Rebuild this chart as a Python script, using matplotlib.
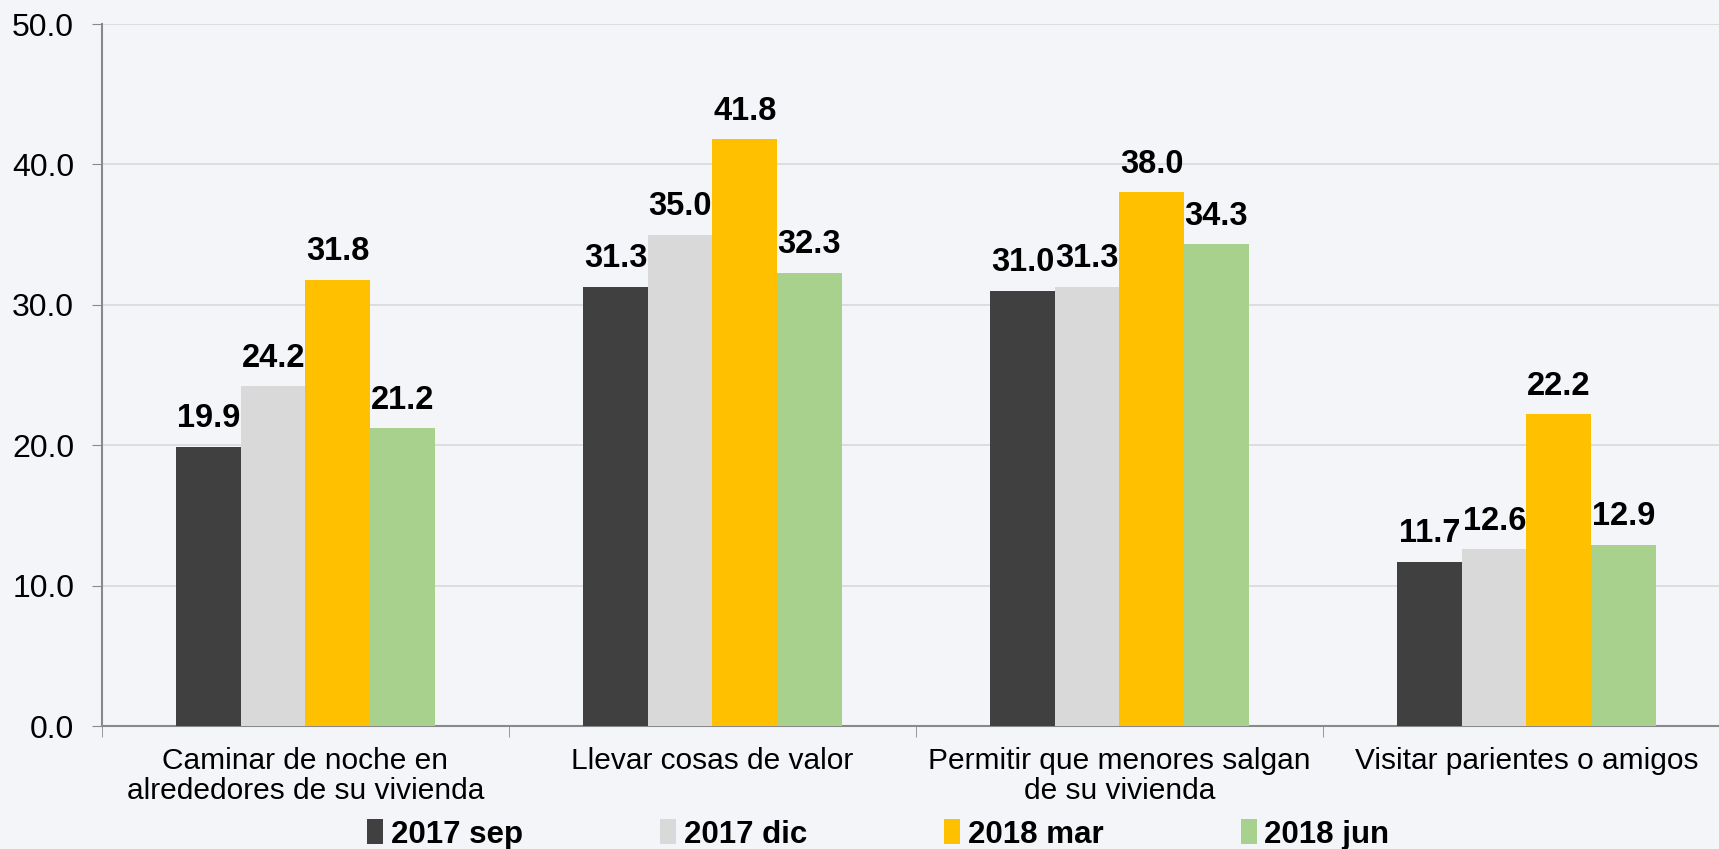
import matplotlib
matplotlib.use("Agg")
import matplotlib.pyplot as plt
import numpy as np

plt.rcParams['font.family'] = ['Liberation Sans', 'DejaVu Sans']

categorias = ['Caminar de noche en\nalrededores de su vivienda',
              'Llevar cosas de valor',
              'Permitir que menores salgan\nde su vivienda',
              'Visitar parientes o amigos']
series = ['2017 sep', '2017 dic', '2018 mar', '2018 jun']
sep17 = [19.9, 31.3, 31.0, 11.7]
dic17 = [24.2, 35.0, 31.3, 12.6]
mar18 = [31.8, 41.8, 38.0, 22.2]
jun18 = [21.2, 32.3, 34.3, 12.9]
colores = ['#404040', '#D9D9D9', '#FFC000', '#A9D18E']

bg = '#F4F5F9'
fig = plt.figure(figsize=(17.19, 8.49), dpi=100, facecolor=bg)
ax = fig.add_axes([102/1719, 123/849, 1 - 102/1719, 702/849])
ax.set_facecolor(bg)

x = np.arange(len(categorias))
w = 0.1585
valores = [sep17, dic17, mar18, jun18]
for i, (vals, col, nom) in enumerate(zip(valores, colores, series)):
    pos = x + (i - 1.5) * w
    bars = ax.bar(pos, vals, w, color=col, label=nom, zorder=3)
    for b, v in zip(bars, vals):
        ax.annotate(f'{v:.1f}', (b.get_x() + b.get_width() / 2, v),
                    xytext=(0, 9), textcoords='offset points',
                    ha='center', va='bottom', fontsize=23.5, fontweight='bold')

ax.set_ylim(0, 50)
ax.set_xlim(-0.5, 3.473)
ax.set_yticks(np.arange(0, 51, 10))
ax.set_yticklabels([f'{t:.1f}' for t in np.arange(0, 51, 10)], fontsize=23)
ax.yaxis.grid(True, color='#D9D9D9', linewidth=1.2, zorder=0)
ax.tick_params(axis='y', length=7, color='#898989', pad=13)

ax.set_xticks(x)
ax.set_xticklabels(categorias, fontsize=21.5, linespacing=1.1)
ax.set_xticks([-0.5, 0.5, 1.5, 2.5], minor=True)
ax.tick_params(axis='x', which='major', length=0, pad=15)
ax.tick_params(axis='x', which='minor', length=8, color='#898989')

for s in ['top', 'right']:
    ax.spines[s].set_visible(False)
for s in ['left', 'bottom']:
    ax.spines[s].set_color('#898989')
    ax.spines[s].set_linewidth(1.5)

leg = fig.legend(loc='center', bbox_to_anchor=(0.511, 0.017), ncol=4,
                 frameon=False, handlelength=0.5, handleheight=0.85,
                 handletextpad=0.25, columnspacing=4.4,
                 prop={'size': 22.5, 'weight': 'bold'})

fig.savefig('out.png', dpi=100, facecolor=bg)
